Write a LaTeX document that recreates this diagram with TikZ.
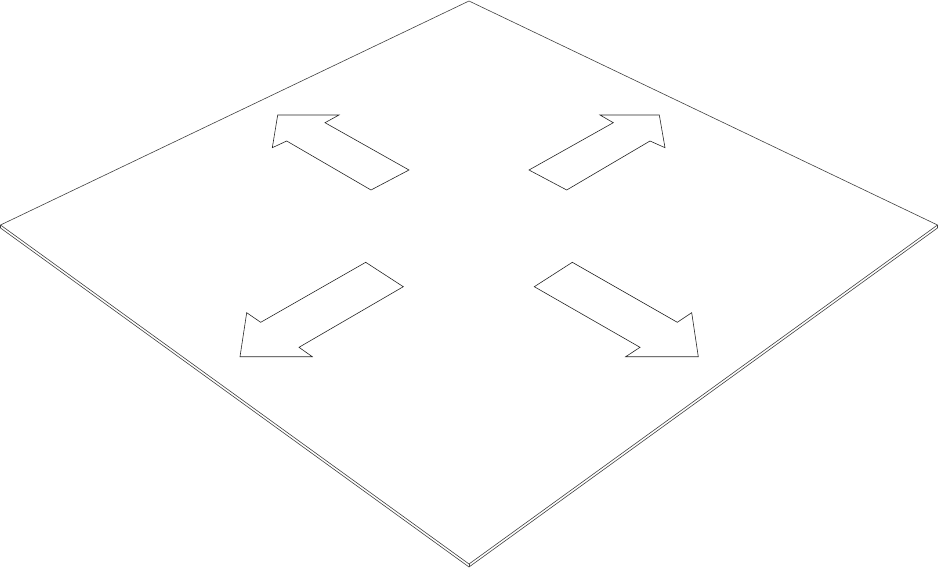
\documentclass[tikz,border=0pt]{standalone}
\usepackage{tikz}

\begin{document}
\begin{tikzpicture}[x=1pt,y=-1pt,
  plate/.style={draw=black!75,line width=0.6pt,line join=miter},
  arrowshape/.style={draw=black!85,line width=0.6pt,fill=white,line join=miter}]
\useasboundingbox (0,0) rectangle (940,568);
% plate corners
\coordinate (T) at (469,1);
\coordinate (R) at (937.5,225);
\coordinate (B) at (469,564);
\coordinate (L) at (0.5,225);
\coordinate (Rb) at (937.5,228);
\coordinate (Bb) at (469,567);
\coordinate (Lb) at (0.5,228);
\draw[plate] (T)--(R)--(B)--(L)--cycle;
\draw[plate] (L)--(Lb)--(Bb)--(Rb)--(R);
\draw[plate] (B)--(Bb);
% arrows
\draw[arrowshape] (277.7,115)--(339,115)--(325,122.7)--(409,170)--(371,190)--(286.7,141)--(272.3,147.7)--cycle;
\draw[arrowshape] (659.3,115)--(600,115)--(613.3,122.7)--(529,170)--(566.7,190)--(650,141)--(665,147.7)--cycle;
\draw[arrowshape] (365.7,262.3)--(403.3,286.7)--(299,347.3)--(312.3,356.7)--(240,356.7)--(246.7,312.7)--(260.7,322.3)--cycle;
\draw[arrowshape] (572.3,262.3)--(534.3,286.7)--(640,347.3)--(625.7,356.7)--(698.3,356.7)--(691.7,312.7)--(677.3,322.3)--cycle;
\end{tikzpicture}
\end{document}
